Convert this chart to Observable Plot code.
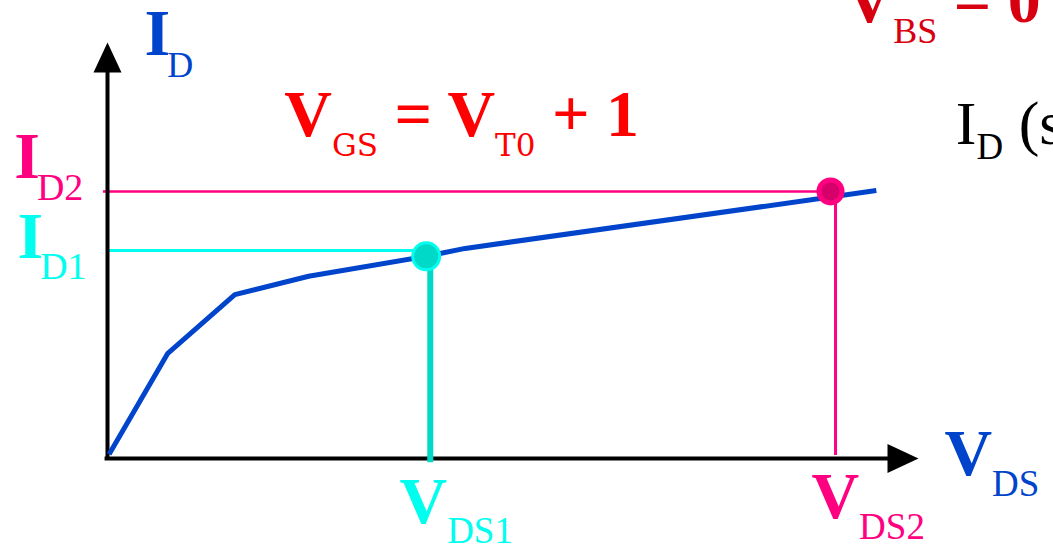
<!DOCTYPE html>
<html><head><meta charset="utf-8">
<script src="https://cdn.jsdelivr.net/npm/d3@7"></script>
<script src="https://cdn.jsdelivr.net/npm/@observablehq/plot@0.6"></script>
<style>html,body{margin:0;padding:0;background:#fff;overflow:hidden}</style>
</head><body><div id="chart"></div>
<script>
// I-V curve (V_DS, I_D) in arbitrary units
const vds = [0.02, 0.74, 1.57, 2.48, 3.93, 4.41, 9.48];
const idv = [0.10, 2.52, 3.94, 4.38, 4.86, 5.05, 6.44];
// operating points
const opVds = [3.93, 8.915];
const opId = [4.86, 6.42];
const opLevel = [5.0, 6.42];      // I_D1, I_D2 guide level
const opDrop = [3.98, 8.977];     // V_DS1, V_DS2 guide position
// labels
const labelText = ["I_{D}", "V_{GS} = V_{T0} + 1", "V_{BS} = 0", "I_{D} (sat)", "I_{D2}", "I_{D1}", "V_{DS1}", "V_{DS2}", "V_{DS}"];
const labelX = [0.456, 2.18, 9.10, 10.46, -1.15, -1.11, 3.60, 8.68, 10.32];
const labelY = [9.71, 7.76, 10.50, 7.57, 6.75, 4.83, -1.56, -1.42, -0.385];

const BLUE = "#0044cc", RED = "#ff0000", DRED = "#d80010", PINK = "#ff0080", CYAN = "#00ffee", TEAL = "#00d8c8";
const SERIF = "Liberation Serif", WIDE = "DejaVu Serif";
const labelStyle = [
  {fill: BLUE, main: 66, sub: 36, shift: 22, weight: "bold", gap: -3, subFont: SERIF},
  {fill: RED, main: 66, sub: 31, shift: 20, weight: "bold", gap: 0, subFont: WIDE},
  {fill: DRED, main: 66, sub: 36, shift: 21, weight: "bold", gap: 0, subFont: SERIF},
  {fill: "#000", main: 62, sub: 37, shift: 15, weight: "normal", gap: 0, subFont: SERIF},
  {fill: PINK, main: 66, sub: 38, shift: 22, weight: "bold", gap: -3, subFont: SERIF},
  {fill: CYAN, main: 66, sub: 38, shift: 21, weight: "bold", gap: -3, subFont: SERIF},
  {fill: CYAN, main: 66, sub: 37, shift: 20, weight: "bold", gap: 0, subFont: SERIF},
  {fill: PINK, main: 66, sub: 37, shift: 21, weight: "bold", gap: 0, subFont: SERIF},
  {fill: BLUE, main: 66, sub: 37, shift: 21, weight: "bold", gap: 0, subFont: SERIF}
];

const curve = vds.map((v, i) => ({vds: v, id: idv[i]}));
const ops = opVds.map((v, i) => ({vds: v, id: opId[i], level: opLevel[i], drop: opDrop[i]}));
const labels = labelText.map((t, i) => ({t, x: labelX[i], y: labelY[i]}));

const upTri = {draw(ctx) { ctx.moveTo(0, 0); ctx.lineTo(14, 30); ctx.lineTo(-14, 30); ctx.closePath(); }};
const rightTri = {draw(ctx) { ctx.moveTo(0, 0); ctx.lineTo(-31, -14.5); ctx.lineTo(-31, 14.5); ctx.closePath(); }};

const svg = Plot.plot({
  width: 1053, height: 555, margin: 0,
  x: {domain: [0, 10], range: [107, 918], axis: null},
  y: {domain: [0, 10], range: [458, 42], axis: null},
  style: {background: "#fff", fontFamily: SERIF},
  marks: [
    // guide lines
    Plot.ruleY([ops[1]], {y: "level", x1: -0.05, x2: "vds", stroke: PINK, strokeWidth: 2.5}),
    Plot.ruleY([ops[0]], {y: "level", x1: 0, x2: "vds", stroke: CYAN, strokeWidth: 3}),
    Plot.ruleX([ops[1]], {x: "drop", y1: "id", y2: 0.07, stroke: PINK, strokeWidth: 3}),
    // axes
    Plot.ruleY([0], {x1: -0.03, x2: 9.65, stroke: "#000", strokeWidth: 4}),
    Plot.ruleX([0], {y1: -0.05, y2: 9.3, stroke: "#000", strokeWidth: 4}),
    Plot.dot([{x: 0, y: 10}], {x: "x", y: "y", symbol: upTri, fill: "#000", r: 10}),
    Plot.dot([{x: 10, y: 0}], {x: "x", y: "y", symbol: rightTri, fill: "#000", r: 10}),
    Plot.ruleX([ops[0]], {x: "drop", y1: "id", y2: -0.1, stroke: TEAL, strokeWidth: 6}),
    // curve
    Plot.line(curve, {x: "vds", y: "id", stroke: BLUE, strokeWidth: 5, strokeLinejoin: "miter", strokeLinecap: "butt"}),
    // operating points
    Plot.dot([ops[0]], {x: "vds", y: "id", r: 13.5, fill: TEAL, stroke: CYAN, strokeWidth: 3}),
    Plot.dot([ops[1]], {x: "vds", y: "id", r: 11.5, fill: "#d6006a", stroke: PINK, strokeWidth: 5}),
    // labels
    ...labels.map((d, i) => Plot.text([d], {x: "x", y: "y", text: "t", textAnchor: "start", lineAnchor: "bottom",
      fill: labelStyle[i].fill, fontSize: labelStyle[i].main, fontWeight: labelStyle[i].weight, fontFamily: SERIF}))
  ]
});

// rich text: subscripts
const texts = svg.querySelectorAll('g[aria-label="text"] text');
texts.forEach((t, i) => {
  const s = labelStyle[i];
  const parts = labelText[i].split(/_\{([^}]*)\}/);
  t.textContent = "";
  t.setAttribute("style", "white-space:pre");
  let cur = 0;
  parts.forEach((p, j) => {
    if (!p) return;
    const sub = j % 2 === 1;
    const want = sub ? s.shift : 0;
    const ts = document.createElementNS("http://www.w3.org/2000/svg", "tspan");
    if (want !== cur) ts.setAttribute("dy", want - cur);
    if (sub && s.gap) ts.setAttribute("dx", s.gap);
    cur = want;
    ts.setAttribute("font-size", sub ? s.sub : s.main);
    ts.setAttribute("font-weight", sub ? "normal" : s.weight);
    ts.setAttribute("font-family", sub ? s.subFont : SERIF);
    ts.textContent = p;
    t.appendChild(ts);
  });
});
document.getElementById("chart").appendChild(svg);
</script></body></html>
